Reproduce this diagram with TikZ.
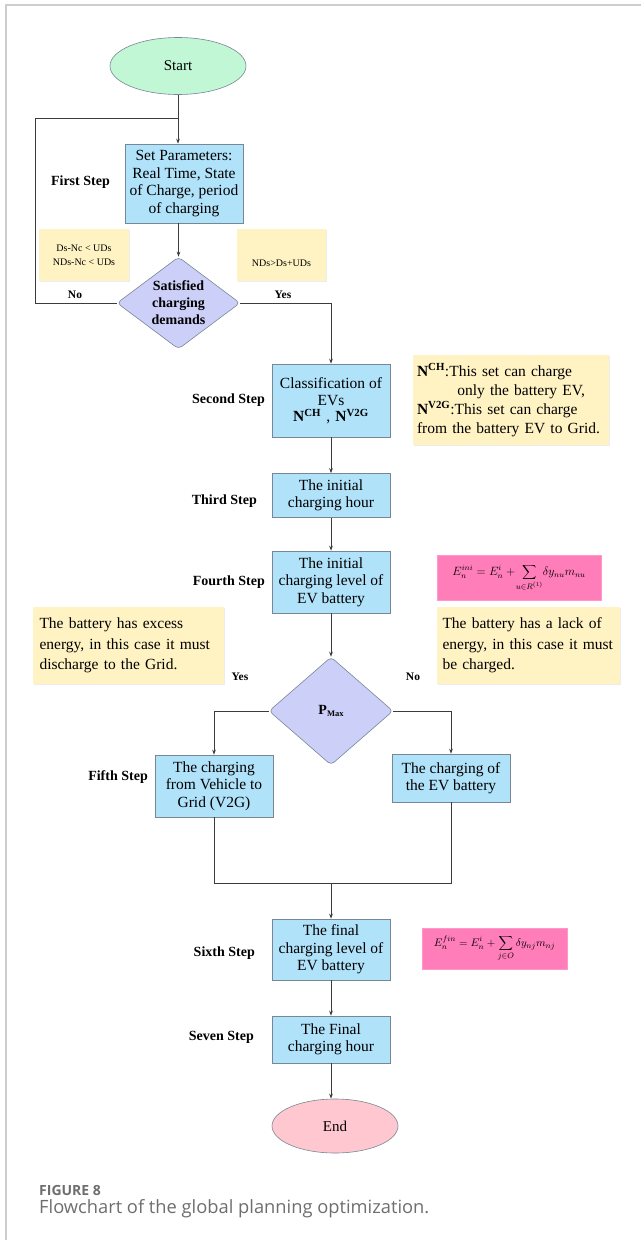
\documentclass[tikz,border=0pt]{standalone}
\usepackage{fontspec}
\setmainfont{Liberation Serif}
\newfontfamily\capfont{Open Sans}
\usetikzlibrary{shapes.geometric,arrows.meta,shadows}
\definecolor{boxblue}{RGB}{176,226,250}
\definecolor{boxline}{RGB}{120,135,150}
\definecolor{noteyel}{RGB}{255,243,196}
\definecolor{formpink}{RGB}{255,125,185}
\definecolor{startgreen}{RGB}{194,247,214}
\definecolor{endpink}{RGB}{255,200,208}
\definecolor{diamlav}{RGB}{204,208,248}
\definecolor{linegray}{RGB}{60,60,60}
\definecolor{capgray}{RGB}{110,110,110}
\definecolor{bordergray}{RGB}{205,205,205}
\tikzset{
  box/.style={draw=boxline, fill=boxblue, line width=0.6pt, align=center, inner sep=1pt,
    minimum width=118pt, font=\fontsize{15.5}{17.5}\selectfont},
  terminal/.style={ellipse, draw=boxline, line width=0.6pt, inner sep=0pt,
    font=\fontsize{15}{17}\selectfont},
  decision/.style={diamond, draw=boxline, fill=diamlav, line width=0.6pt, inner sep=0pt,
    rounded corners=4pt},
  diamtext/.style={align=center, font=\bfseries\fontsize{14}{17}\selectfont},
  steplabel/.style={anchor=east, inner sep=0pt, font=\bfseries\fontsize{14}{16}\selectfont},
  yn/.style={inner sep=0pt, font=\bfseries\fontsize{11.5}{13}\selectfont},
  smallnote/.style={fill=noteyel, align=center, inner sep=0pt, font=\fontsize{10}{14}\selectfont,
    drop shadow={shadow xshift=1pt, shadow yshift=-1pt, opacity=0.15}},
  note/.style={fill=noteyel, align=left, inner sep=0pt,
    drop shadow={shadow xshift=1pt, shadow yshift=-1pt, opacity=0.15}},
  formula/.style={fill=formpink, draw=formpink!80!white, inner sep=0pt},
  conn/.style={draw=linegray, line width=0.9pt},
  arr/.style={conn, -{Stealth[length=5pt,width=3.6pt]}},
}
\begin{document}
\begin{tikzpicture}[x=1pt,y=-1pt]
\useasboundingbox (0,0) rectangle (641,1240);
\fill[white] (0,0) rectangle (641,1240);
\draw[bordergray, line width=1.5pt] (6,1240) -- (6,5) -- (641,5);

% Start
\node[terminal, fill=startgreen, minimum width=136pt, minimum height=57pt] (start) at (178,66) {Start};
\coordinate (joint) at (178,118);
\coordinate (loopc) at (35,118);

% First step
\node[box, minimum height=79pt] (setp) at (184,183.5) {Set Parameters:\\Real Time, State\\of Charge, period\\of charging};
\node[steplabel] (l1) at (110,182) {First Step};

\node[smallnote, minimum width=90pt, minimum height=52pt] (n1) at (84,255) {Ds-Nc {\textless} UDs\\NDs-Nc {\textless} UDs};
\node[smallnote, minimum width=89pt, minimum height=52pt] (n2) at (281.5,255) {\strut\\NDs{\textgreater}Ds+UDs};

\node[decision, minimum width=123pt, minimum height=92pt] (d1) at (178.5,303) {};
\node[diamtext] (d1t) at (d1) {Satisfied\\charging\\demands};
\node[yn] (no1) at (75,295) {No};
\node[yn] (yes1) at (283,295) {Yes};

% Second step
\node[box, minimum height=73pt] (classif) at (331,400.5) {Classification of\\EVs\\[-2pt]\textbf{N\textsuperscript{CH}}\,\,,\,\,\textbf{N\textsuperscript{V2G}}};
\node[steplabel] (l2) at (265,400) {Second Step};
\node[note, minimum width=196pt, minimum height=90pt, text width=188pt,
  font=\fontsize{15.5}{19}\selectfont] (n3) at (511,400)
  {\textbf{N\textsuperscript{CH}}:This set can charge\\\hspace*{2.6em}only the battery EV,\\\textbf{N\textsuperscript{V2G}}:This set can charge\\from the battery EV to Grid.};

% Third step
\node[box, minimum height=44pt] (third) at (331,495.5) {The initial\\charging hour};
\node[steplabel] (l3) at (257,501) {Third Step};

% Fourth step
\node[box, minimum height=62pt] (fourth) at (331,582) {The initial\\charging level of\\EV battery};
\node[steplabel] (l4) at (265,582) {Fourth Step};
\node[formula, minimum width=164pt, minimum height=45pt, font=\fontsize{11.5}{13}\selectfont] (f1) at (519,577.5)
  {$\displaystyle E_n^{ini} = E_n^{i} + \!\sum_{u\in R^{(1)}}\! \delta y_{nu} m_{nu}$};

\node[note, minimum width=191pt, minimum height=77pt, text width=178pt,
  font=\fontsize{15.5}{20.5}\selectfont] (n4) at (128.5,645.5)
  {The battery has excess\\energy, in this case it must\\discharge to the Grid.};
\node[note, minimum width=183pt, minimum height=77pt, text width=172pt,
  font=\fontsize{15.5}{20.5}\selectfont] (n5) at (528.5,645.5)
  {The battery has a lack of\\energy, in this case it must\\be charged.};

\node[decision, minimum width=124pt, minimum height=108pt] (d2) at (331,711) {};
\node[diamtext] (d2t) at (d2) {P\raisebox{-2pt}{\fontsize{8.5}{9}\selectfont\bfseries Max}};
\node[yn] (yes2) at (240,677) {Yes};
\node[yn] (no2) at (413,677) {No};

% Fifth step
\node[box, minimum height=62pt] (v2g) at (214,786) {The charging\\from Vehicle to\\Grid (V2G)};
\node[box, minimum height=48pt] (chg) at (451,778) {The charging of\\the EV battery};
\node[steplabel] (l5) at (148,777) {Fifth Step};
\coordinate (mid) at (331,883);

% Sixth step
\node[box, minimum height=61pt] (sixth) at (331,949.5) {The final\\charging level of\\EV battery};
\node[steplabel] (l6) at (255,953) {Sixth Step};
\node[formula, minimum width=145pt, minimum height=41pt, font=\fontsize{11}{12}\selectfont] (f2) at (494.5,948.5)
  {$\displaystyle E_n^{fin} = E_n^{i} + \sum_{j\in O} \delta y_{nj} m_{nj}$};

% Seven step
\node[box, minimum height=47pt] (seven) at (331,1039.5) {The Final\\charging hour};
\node[steplabel] (l7) at (254,1037) {Seven Step};

\node[terminal, fill=endpink, minimum width=126pt, minimum height=54pt] (endn) at (335,1126) {End};

% Connectors
\draw[arr] (start.south) -- (start.south |- setp.north);
\draw[conn] (d1.west) -| (loopc) -- (joint);
\draw[arr] (d1.north |- setp.south) -- (d1.north);
\draw[arr] (d1.east) -| (classif.north);
\draw[arr] (classif.south) -- (third.north);
\draw[arr] (third.south) -- (fourth.north);
\draw[arr] (fourth.south) -- (d2.north);
\draw[arr] (d2.west) -| (v2g.north);
\draw[arr] (d2.east) -| (chg.north);
\draw[conn] (v2g.south) |- (mid) -| (chg.south);
\draw[arr] (mid) -- (sixth.north);
\draw[arr] (sixth.south) -- (seven.north);
\draw[arr] (seven.south) -- (seven.south |- endn.north);

% Caption
\node[anchor=base west, inner sep=0pt, text=capgray, font=\capfont\bfseries\fontsize{14}{16}\selectfont] (cap1) at (39,1195) {FIGURE 8};
\node[anchor=base west, inner sep=0pt, text=capgray, font=\capfont\fontsize{18.3}{21}\selectfont] (cap2) at (39,1213) {Flowchart of the global planning optimization.};
\end{tikzpicture}
\end{document}
